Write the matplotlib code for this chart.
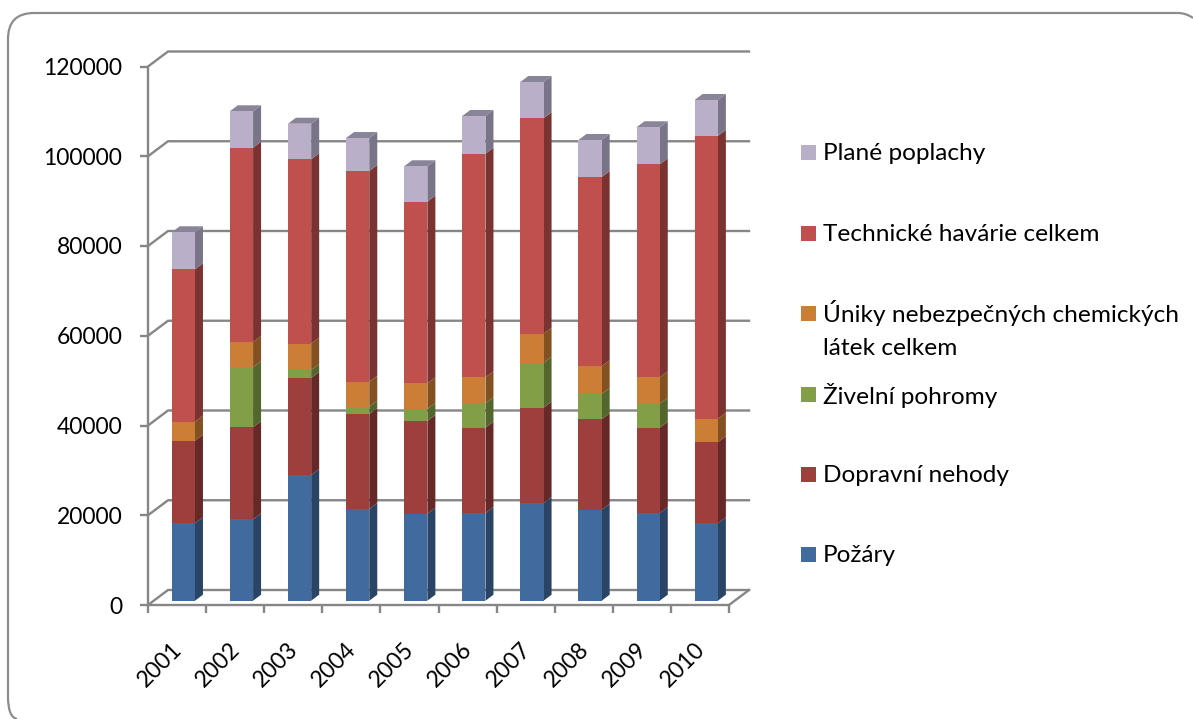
import numpy as np
import matplotlib
matplotlib.use('Agg')
import matplotlib.pyplot as plt
from matplotlib.patches import Polygon, Rectangle, PathPatch
from matplotlib.path import Path
from matplotlib.transforms import IdentityTransform

plt.rcParams['font.family'] = ['Lato', 'DejaVu Sans']

years = ['2001', '2002', '2003', '2004', '2005', '2006', '2007', '2008', '2009', '2010']
pozary = [17250, 18140, 28010, 20430, 19390, 19540, 21770, 20280, 19540, 17250]
dopravni = [18410, 20500, 21620, 21170, 20660, 19010, 21240, 20140, 19010, 18050]
zivelni = [0, 13370, 1780, 1630, 2670, 5440, 10030, 5640, 5350, 0]
uniky = [4230, 5640, 5860, 5570, 5730, 5790, 6460, 6170, 5880, 5260]
technicke = [33960, 43300, 41090, 46950, 40470, 49830, 48000, 42180, 47470, 63000]
plane = [8250, 8110, 7930, 7350, 7890, 8400, 8090, 8250, 8250, 8020]

series = [pozary, dopravni, zivelni, uniky, technicke, plane]
front_col = ['#416b9f', '#9f3f3d', '#829f47', '#cc7d36', '#c0504d', '#b9afc9']
side_col = ['#2a4466', '#672927', '#53662d', '#835022', '#7b3331', '#7a7488']
top_col = '#8a8499'

W, H = 1193, 719
fig = plt.figure(figsize=(W / 100, H / 100), dpi=100)
fig.patch.set_facecolor('white')

# front plane of the chart, in figure pixels
x0, x1 = 148, 729
y0, y1 = 605, 66.5
ax = fig.add_axes([x0 / W, 1 - y0 / H, (x1 - x0) / W, (y0 - y1) / H])
ax.set_xlim(-0.5, 9.5)
ax.set_ylim(0, 120000)
ax.patch.set_visible(False)
for s in ['top', 'right']:
    ax.spines[s].set_visible(False)
grey = '#868686'
for s in ['left', 'bottom']:
    ax.spines[s].set_color(grey)
    ax.spines[s].set_linewidth(1.7)

ax.set_yticks(np.arange(0, 120001, 20000))
ax.set_xticks(np.arange(-0.5, 10, 1))
ax.set_xticklabels([])
ax.tick_params(axis='both', which='major', color=grey, width=1.7, length=5.5)
ax.tick_params(axis='y', labelsize=16.5, labelcolor='black', pad=13)
# year labels sit a bit left of the category centre
ax.set_xticks(np.arange(10) - 0.1, labels=years, minor=True)
ax.tick_params(axis='x', which='minor', length=0, labelsize=16.5, pad=24)
for t in ax.get_xticklabels(minor=True):
    t.set_rotation(45)
    t.set_ha('right')
    t.set_rotation_mode('anchor')

fig.canvas.draw()

# depth of the 3d box
dx, dy = 20, 15


def to_px(x, y):
    px = ax.transData.transform((x, y))
    return px[0], px[1]


def line_px(pts):
    xs = [p[0] for p in pts]
    ys = [p[1] for p in pts]
    fig.add_artist(plt.Line2D(xs, ys, transform=IdentityTransform(), color=grey, lw=1.7, zorder=1))


# back wall lines
for v in np.arange(0, 120001, 20000):
    a = to_px(-0.5, v)
    b = (a[0] + dx, a[1] + dy)
    c = (to_px(9.5, v)[0] + dx, a[1] + dy)
    line_px([a, b, c])
a = to_px(9.5, 0)
line_px([a, (a[0] + dx, a[1] + dy)])

# bars
bar_w = 0.40
shift = (6.3, 4.3)
bx, by = 8, 6
bottom = np.zeros(10)
for vals, fc, sc in zip(series, front_col, side_col):
    vals = np.array(vals, dtype=float)
    for i in range(10):
        if vals[i] == 0:
            continue
        l = to_px(i - bar_w / 2, bottom[i])
        r = to_px(i + bar_w / 2, bottom[i] + vals[i])
        xl, yb = l[0] + shift[0], l[1] + shift[1]
        xr, yt = r[0] + shift[0], r[1] + shift[1]
        fig.add_artist(Polygon([(xr, yb), (xr + bx, yb + by), (xr + bx, yt + by), (xr, yt)],
                               closed=True, transform=IdentityTransform(), fc=sc, ec='none', zorder=3))
        fig.add_artist(Rectangle((xl, yb), xr - xl, yt - yb, transform=IdentityTransform(),
                                 fc=fc, ec='none', zorder=4))
    bottom = bottom + vals

# lid of each bar
for i in range(10):
    l = to_px(i - bar_w / 2, bottom[i])
    r = to_px(i + bar_w / 2, bottom[i])
    xl, xr, yt = l[0] + shift[0], r[0] + shift[0], l[1] + shift[1]
    fig.add_artist(Polygon([(xl, yt), (xr, yt), (xr + bx, yt + by), (xl + bx, yt + by)],
                           closed=True, transform=IdentityTransform(), fc=top_col, ec='none', zorder=3))

# legend
legend_labels = ['Plané poplachy', 'Technické havárie celkem',
                 'Úniky nebezpečných chemických\nlátek celkem', 'Živelní pohromy',
                 'Dopravní nehody', 'Požáry']
legend_cols = [front_col[5], front_col[4], front_col[3], front_col[2], front_col[1], front_col[0]]
legend_y = [152.5, 233.5, 313.5, 394.5, 474.5, 554.5]
for lab, c, ly in zip(legend_labels, legend_cols, legend_y):
    fig.add_artist(Rectangle((801, H - ly - 7.5), 15, 15, transform=IdentityTransform(), fc=c, ec='none'))
    if '\n' in lab:
        fig.text(823 / W, 1 - (ly - 13) / H, lab, fontsize=17.6, va='top', ha='left', linespacing=1.65)
    else:
        fig.text(823 / W, 1 - (ly + 1) / H, lab, fontsize=17.6, va='center', ha='left')

# rounded frame, cut off by the right and bottom edge of the image
top = H - 13
frame = Path([(1193, top - 5), (1186, top), (1178, top), (34, top), (8, top), (8, top - 26),
              (8, 22), (8, 2), (17, 0)],
             [Path.MOVETO, Path.CURVE3, Path.CURVE3, Path.LINETO, Path.CURVE3, Path.CURVE3,
              Path.LINETO, Path.CURVE3, Path.CURVE3])
fig.add_artist(PathPatch(frame, transform=IdentityTransform(), fc='none', ec='#8c8c8c', lw=1.6, zorder=0))

fig.savefig('out.png', dpi=100)
